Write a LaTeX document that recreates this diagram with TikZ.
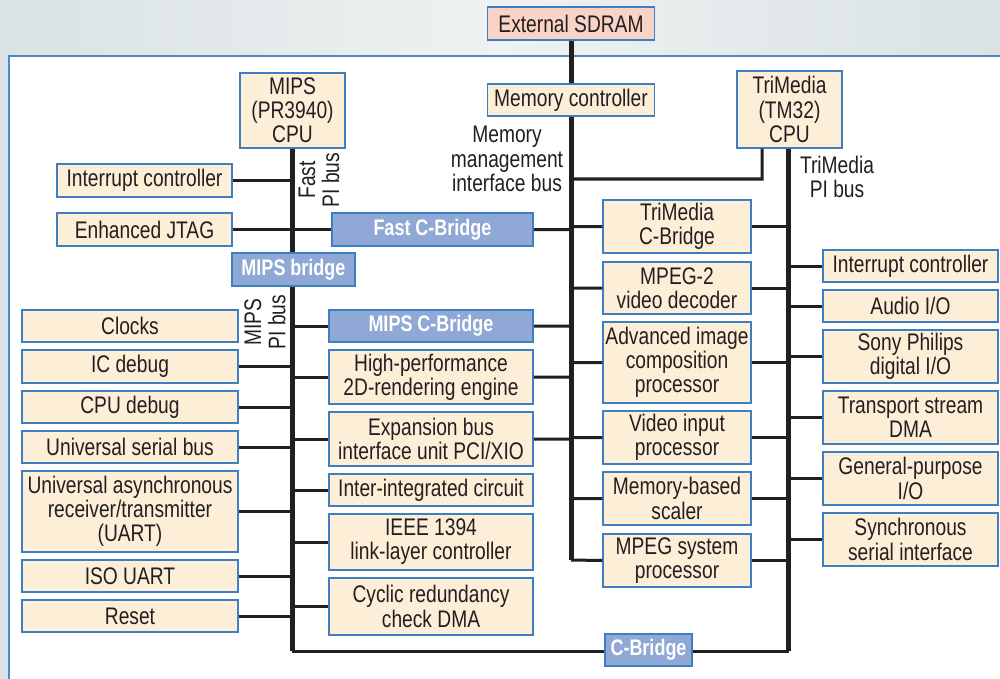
\documentclass[tikz,border=0pt]{standalone}
\usepackage{fontspec}
\setmainfont{Liberation Sans}[FakeStretch=0.8]

\definecolor{boxfill}{HTML}{FDEFD7}
\definecolor{boxline}{HTML}{3D7FC1}
\definecolor{bridgefill}{HTML}{8FA8D5}
\definecolor{sdramfill}{HTML}{F8D3C6}
\definecolor{ink}{HTML}{231F20}
\definecolor{bgside}{HTML}{DAE2E5}
\definecolor{bgmid}{HTML}{EEF2F1}
\definecolor{panelline}{HTML}{4F89C2}

\newcommand\unitfont{\fontsize{24}{24.2}\selectfont}
\newcommand\bridgefont{\fontsize{22.5}{22.5}\selectfont\bfseries}

\tikzset{
  unit/.style={draw=boxline,fill=boxfill,line width=1.5pt,inner sep=0pt,
    align=center,text=ink,font=\unitfont},
  bridge/.style={unit,fill=bridgefill,text=white,font=\bridgefont},
  sz/.style 2 args={minimum width=#1pt,minimum height=#2pt},
  bus/.style={draw=ink,line width=5pt},
  link/.style={draw=ink,line width=3pt},
  lbl/.style={align=center,text=ink,font=\unitfont,inner sep=0pt}
}

\begin{document}
\begin{tikzpicture}[x=1pt,y=-1pt]
\useasboundingbox (0,0) rectangle (1000,679);
% backdrop and panel
\shade[left color=bgside,right color=bgside,middle color=bgmid] (0,0) rectangle (1000,679);
\filldraw[fill=white,draw=panelline,line width=1.5pt] (9,56) rectangle (1012,690);

% top row
\node[unit,sz={167}{33},fill=sdramfill] (sdram) at (571,23.5) {External SDRAM};
\node[unit,sz={105}{75}] (mipscpu) at (292.5,110.5) {MIPS\\(PR3940)\\CPU};
\node[unit,sz={167}{32}] (memctl) at (571,100) {Memory controller};
\node[unit,sz={105}{77}] (tmcpu) at (789.5,109.5) {TriMedia\\(TM32)\\CPU};

% MIPS side
\node[unit,sz={175}{33}] (intl) at (144.5,180.5) {Interrupt controller};
\node[unit,sz={175}{33}] (jtag) at (144.5,229.5) {Enhanced JTAG};
\node[bridge,sz={201}{33}] (fastcb) at (432.5,229.5) {Fast C-Bridge};
\node[bridge,sz={123}{33}] (mipsbr) at (293.5,269.5) {MIPS bridge};
\node[unit,sz={216}{32}] (clocks) at (130,326) {Clocks};
\node[unit,sz={216}{33}] (icdbg) at (130,366.5) {IC debug};
\node[unit,sz={216}{32}] (cpudbg) at (130,407) {CPU debug};
\node[unit,sz={216}{32}] (usb) at (130,447) {Universal serial bus};
\node[unit,sz={216}{81}] (uart) at (130,511.5) {Universal asynchronous\\receiver/transmitter\\(UART)};
\node[unit,sz={216}{32}] (isouart) at (130,576) {ISO UART};
\node[unit,sz={216}{32}] (reset) at (130,616) {Reset};
\node[bridge,sz={204}{32}] (mipscb) at (431,326) {MIPS C-Bridge};
\node[unit,sz={204}{54}] (render) at (431,377) {High-performance\\2D-rendering engine};
\node[unit,sz={204}{54}] (expbus) at (431,439) {Expansion bus\\interface unit PCI/XIO};
\node[unit,sz={204}{32}] (iic) at (431,490) {Inter-integrated circuit};
\node[unit,sz={204}{56}] (ieee) at (431,542) {IEEE 1394\\link-layer controller};
\node[unit,sz={204}{57}] (crc) at (431,606.5) {Cyclic redundancy\\check DMA};
\node[bridge,sz={87}{32}] (cbridge) at (648.5,650) {C-Bridge};

% TriMedia side
\node[unit,sz={148}{53}] (tmcb) at (677,226.5) {TriMedia\\C-Bridge};
\node[unit,sz={148}{52}] (mpeg2) at (677,288) {MPEG-2\\video decoder};
\node[unit,sz={148}{81}] (aicp) at (677,362.5) {Advanced image\\composition\\processor};
\node[unit,sz={148}{53}] (vip) at (677,437.5) {Video input\\processor};
\node[unit,sz={148}{53}] (mbs) at (677,498.5) {Memory-based\\scaler};
\node[unit,sz={148}{53}] (msp) at (677,560.5) {MPEG system\\processor};
\node[unit,sz={175}{32}] (intr) at (910.5,266) {Interrupt controller};
\node[unit,sz={175}{32}] (audio) at (910.5,306) {Audio I/O};
\node[unit,sz={175}{53}] (spdif) at (910.5,356.5) {Sony Philips\\digital I/O};
\node[unit,sz={175}{53}] (tsdma) at (910.5,417.5) {Transport stream\\DMA};
\node[unit,sz={175}{53}] (gpio) at (910.5,478.5) {General-purpose\\I/O};
\node[unit,sz={175}{53}] (ssi) at (910.5,539.5) {Synchronous\\serial interface};

% bus labels
\node[lbl,rotate=90] (fastlbl) at (319,180) {Fast\\PI bus};
\node[lbl,rotate=90] (mipslbl) at (265,322) {MIPS\\PI bus};
\node[lbl] (mmilbl) at (507,159) {Memory\\management\\interface bus};
\node[lbl] (tmlbl) at (837,177) {TriMedia\\PI bus};

\coordinate (mipsend) at (292,651);
\coordinate (memend) at (571,560);
\coordinate (tmend) at (788.5,651);
\coordinate (tmfeed) at (762,179);

% buses
\draw[bus] (sdram.south) -- (memctl.north)
           (memctl.south) -- (memend);
\draw[bus] (mipscpu.south -| mipsend) -- (mipsbr.north -| mipsend)
           (mipsbr.south -| mipsend) -- (mipsend);
\draw[bus] (tmcpu.south -| tmend) -- (tmend);

% MIPS PI bus links
\draw[link] (intl.east) -- (intl.east -| mipsend)
            (jtag.east) -- (fastcb.west)
            (icdbg.east) -- (icdbg.east -| mipsend)
            (cpudbg.east) -- (cpudbg.east -| mipsend)
            (usb.east) -- (usb.east -| mipsend)
            (uart.east) -- (uart.east -| mipsend)
            (isouart.east) -- (isouart.east -| mipsend)
            (reset.east) -- (reset.east -| mipsend)
            (mipscb.west) -- (mipscb.west -| mipsend)
            (render.west) -- (render.west -| mipsend)
            (expbus.west) -- (expbus.west -| mipsend)
            (iic.west) -- (iic.west -| mipsend)
            (ieee.west) -- (ieee.west -| mipsend)
            (crc.west) -- (crc.west -| mipsend);

% memory bus links
\draw[link] (fastcb.east) -- (fastcb.east -| memend)
            (mipscb.east) -- (mipscb.east -| memend)
            (render.east) -- (render.east -| memend)
            (expbus.east) -- (expbus.east -| memend)
            (tmcb.west) -- (tmcb.west -| memend)
            (mpeg2.west) -- (mpeg2.west -| memend)
            (aicp.west) -- (aicp.west -| memend)
            (vip.west) -- (vip.west -| memend)
            (mbs.west) -- (mbs.west -| memend)
            (msp.west) -- (memend)
            (tmcpu.south -| tmfeed) -- (tmfeed) -- (tmfeed -| memend);

% TriMedia PI bus links
\draw[link] (tmcb.east) -- (tmcb.east -| tmend)
            (mpeg2.east) -- (mpeg2.east -| tmend)
            (aicp.east) -- (aicp.east -| tmend)
            (vip.east) -- (vip.east -| tmend)
            (mbs.east) -- (mbs.east -| tmend)
            (msp.east) -- (msp.east -| tmend)
            (intr.west) -- (intr.west -| tmend)
            (audio.west) -- (audio.west -| tmend)
            (spdif.west) -- (spdif.west -| tmend)
            (tsdma.west) -- (tsdma.west -| tmend)
            (gpio.west) -- (gpio.west -| tmend)
            (ssi.west) -- (ssi.west -| tmend);

% C-Bridge joins the two PI buses
\draw[link] (mipsend) -- (mipsend -| cbridge.west)
            (tmend -| cbridge.east) -- (tmend);
\end{tikzpicture}
\end{document}
